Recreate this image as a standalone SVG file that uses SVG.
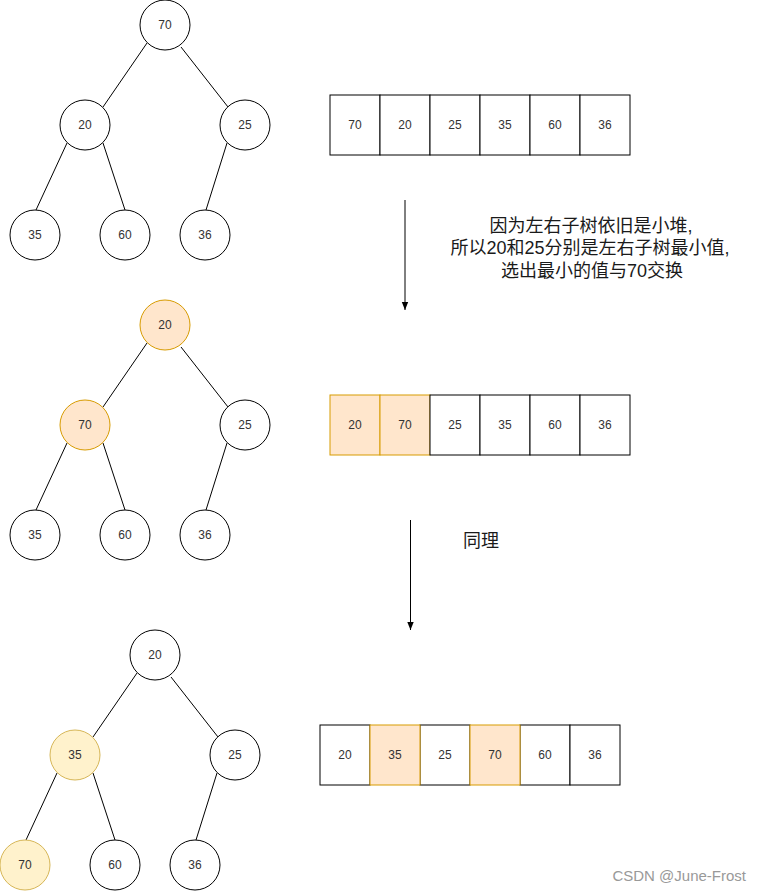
<svg xmlns="http://www.w3.org/2000/svg" width="761" height="891" viewBox="0 0 761 891">
<style>
.n circle{fill:#fff;stroke:#000;stroke-width:1}
.n.o circle{fill:#ffe6cc;stroke:#d79b00}
.n.y circle{fill:#fff2cc;stroke:#d6b656}
.n text,.a text{font-family:"Liberation Sans",Arial,sans-serif;font-size:12px;fill:#333;text-anchor:middle}
.a rect{fill:#fff;stroke:#000;stroke-width:1}
.a rect.o{fill:#ffe6cc;stroke:#d79b00}
.e line{stroke:#000;stroke-width:1}
.ar line{stroke:#000;stroke-width:1}
.t{font-family:"Liberation Sans","Noto Sans CJK SC",sans-serif;font-size:18px;fill:#1a1a1a;text-anchor:middle}
.w{font-family:"Liberation Sans",Arial,sans-serif;font-size:15px;fill:#999;text-anchor:end}
</style>
<defs>
<marker id="ah" viewBox="0 0 10 10" refX="10" refY="5" markerWidth="8" markerHeight="8" markerUnits="userSpaceOnUse" orient="auto">
<path d="M0,1 L10,5 L0,9 Z" fill="#000"/>
</marker>
</defs>
<rect width="761" height="891" fill="#fff"/>
<g id="connectors">
<g class="e">
<line x1="147" y1="43" x2="103" y2="107"/>
<line x1="181" y1="47" x2="228" y2="107"/>
<line x1="67" y1="143" x2="36" y2="210"/>
<line x1="103" y1="143" x2="125" y2="210"/>
<line x1="227" y1="143" x2="206" y2="210"/>
<line x1="147" y1="343" x2="103" y2="407"/>
<line x1="181" y1="347" x2="228" y2="407"/>
<line x1="67" y1="443" x2="36" y2="510"/>
<line x1="103" y1="443" x2="125" y2="510"/>
<line x1="227" y1="443" x2="206" y2="510"/>
<line x1="137" y1="673" x2="93" y2="737"/>
<line x1="171" y1="677" x2="218" y2="737"/>
<line x1="57" y1="773" x2="26" y2="840"/>
<line x1="93" y1="773" x2="115" y2="840"/>
<line x1="217" y1="773" x2="196" y2="840"/>
</g>
<g class="ar">
<line x1="405" y1="200" x2="405" y2="310" marker-end="url(#ah)"/>
<line x1="410.5" y1="520" x2="410.5" y2="630" marker-end="url(#ah)"/>
</g>
</g>
<g id="tree1">
<g id="t1-70" class="n"><circle cx="165" cy="25" r="25"/><text x="165" y="29">70</text></g>
<g id="t1-20" class="n"><circle cx="85" cy="125" r="25"/><text x="85" y="129">20</text></g>
<g id="t1-25" class="n"><circle cx="245" cy="125" r="25"/><text x="245" y="129">25</text></g>
<g id="t1-35" class="n"><circle cx="35" cy="235" r="25"/><text x="35" y="239">35</text></g>
<g id="t1-60" class="n"><circle cx="125" cy="235" r="25"/><text x="125" y="239">60</text></g>
<g id="t1-36" class="n"><circle cx="205" cy="235" r="25"/><text x="205" y="239">36</text></g>
</g>
<g id="array1" class="a">
<rect x="330" y="95" width="50" height="60"/><text x="355" y="129">70</text>
<rect x="380" y="95" width="50" height="60"/><text x="405" y="129">20</text>
<rect x="430" y="95" width="50" height="60"/><text x="455" y="129">25</text>
<rect x="480" y="95" width="50" height="60"/><text x="505" y="129">35</text>
<rect x="530" y="95" width="50" height="60"/><text x="555" y="129">60</text>
<rect x="580" y="95" width="50" height="60"/><text x="605" y="129">36</text>
</g>
<g id="label1">
<text class="t" x="591" y="232">因为左右子树依旧是小堆,</text>
<text class="t" x="590" y="254">所以20和25分别是左右子树最小值,</text>
<text class="t" x="592" y="277">选出最小的值与70交换</text>
</g>
<g id="tree2">
<g id="t2-20" class="n o"><circle cx="165" cy="325" r="25"/><text x="165" y="329">20</text></g>
<g id="t2-70" class="n o"><circle cx="85" cy="425" r="25"/><text x="85" y="429">70</text></g>
<g id="t2-25" class="n"><circle cx="245" cy="425" r="25"/><text x="245" y="429">25</text></g>
<g id="t2-35" class="n"><circle cx="35" cy="535" r="25"/><text x="35" y="539">35</text></g>
<g id="t2-60" class="n"><circle cx="125" cy="535" r="25"/><text x="125" y="539">60</text></g>
<g id="t2-36" class="n"><circle cx="205" cy="535" r="25"/><text x="205" y="539">36</text></g>
</g>
<g id="array2" class="a">
<rect class="o" x="330" y="395" width="50" height="60"/><text x="355" y="429">20</text>
<rect class="o" x="380" y="395" width="50" height="60"/><text x="405" y="429">70</text>
<rect x="430" y="395" width="50" height="60"/><text x="455" y="429">25</text>
<rect x="480" y="395" width="50" height="60"/><text x="505" y="429">35</text>
<rect x="530" y="395" width="50" height="60"/><text x="555" y="429">60</text>
<rect x="580" y="395" width="50" height="60"/><text x="605" y="429">36</text>
</g>
<g id="label2"><text class="t" x="481" y="547">同理</text></g>
<g id="tree3">
<g id="t3-20" class="n"><circle cx="155" cy="655" r="25"/><text x="155" y="659">20</text></g>
<g id="t3-35" class="n y"><circle cx="75" cy="755" r="25"/><text x="75" y="759">35</text></g>
<g id="t3-25" class="n"><circle cx="235" cy="755" r="25"/><text x="235" y="759">25</text></g>
<g id="t3-70" class="n y"><circle cx="25" cy="865" r="25"/><text x="25" y="869">70</text></g>
<g id="t3-60" class="n"><circle cx="115" cy="865" r="25"/><text x="115" y="869">60</text></g>
<g id="t3-36" class="n"><circle cx="195" cy="865" r="25"/><text x="195" y="869">36</text></g>
</g>
<g id="array3" class="a">
<rect x="320" y="725" width="50" height="60"/><text x="345" y="759">20</text>
<rect x="420" y="725" width="50" height="60"/><text x="445" y="759">25</text>
<rect x="520" y="725" width="50" height="60"/><text x="545" y="759">60</text>
<rect x="570" y="725" width="50" height="60"/><text x="595" y="759">36</text>
<rect class="o" x="370" y="725" width="50" height="60"/><text x="395" y="759">35</text>
<rect class="o" x="470" y="725" width="50" height="60"/><text x="495" y="759">70</text>
</g>
<text class="w" x="746" y="881">CSDN @June-Frost</text>
</svg>
